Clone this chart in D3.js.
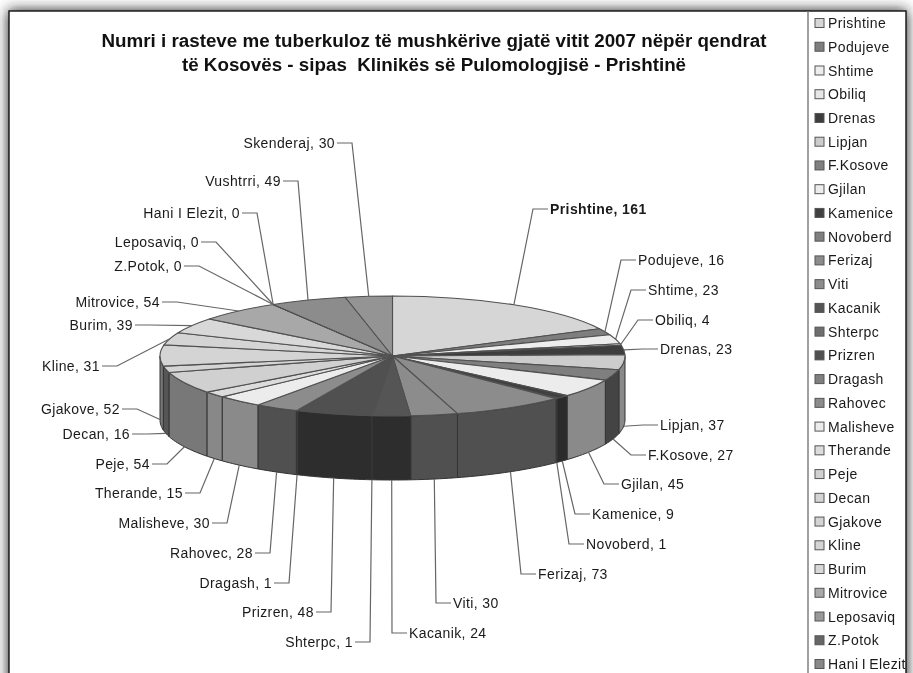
<!DOCTYPE html>
<html>
<head>
<meta charset="utf-8">
<script src="https://cdnjs.cloudflare.com/ajax/libs/d3/7.8.5/d3.min.js"></script>
<style>
  html, body { margin: 0; padding: 0; background: #fff; overflow: hidden; }
  svg { display: block; }
  text { font-family: "Liberation Sans", Arial, sans-serif; fill: #1a1a1a; }
  .label, .legend-label { font-size: 14px; letter-spacing: .4px; }
  .legend-label { word-spacing: -1px; }
  .title { font-size: 18.8px; font-weight: bold; text-anchor: middle; fill: #111; white-space: pre; }
  .leader { fill: none; stroke: #666; stroke-width: 1.2; }
  .slice { stroke: #505050; stroke-width: 1.1; stroke-linejoin: round; vector-effect: non-scaling-stroke; }
  .wall { stroke: #333; stroke-width: 1; stroke-linejoin: round; }
</style>
</head>
<body>
<svg id="chart" width="913" height="673"></svg>
<script>
const titleLines = [
  'Numri i rasteve me tuberkuloz të mushkërive gjatë vitit 2007 nëpër qendrat',
  'të Kosovës - sipas  Klinikës së Pulomologjisë - Prishtinë'
];

const categories = ['Prishtine', 'Podujeve', 'Shtime', 'Obiliq', 'Drenas', 'Lipjan', 'F.Kosove', 'Gjilan',
  'Kamenice', 'Novoberd', 'Ferizaj', 'Viti', 'Kacanik', 'Shterpc', 'Prizren', 'Dragash', 'Rahovec',
  'Malisheve', 'Therande', 'Peje', 'Decan', 'Gjakove', 'Kline', 'Burim', 'Mitrovice', 'Leposaviq',
  'Z.Potok', 'Hani I Elezit', 'Vushtrri', 'Skenderaj'];

const cases = [161, 16, 23, 4, 23, 37, 27, 45, 9, 1, 73, 30, 24, 1, 48, 1, 28, 30, 15, 54, 16, 52, 31, 39, 54, 0, 0, 0, 49, 30];

// the legend box is cut off by the picture, the last two never show
const legendCategories = categories.slice(0, 28);

const topColors = ['#d6d6d6', '#7e7e7e', '#ededed', '#e6e6e6', '#3d3d3d', '#cccccc', '#7f7f7f', '#ececec',
  '#404040', '#808080', '#8c8c8c', '#8c8c8c', '#555555', '#6e6e6e', '#505050', '#808080', '#8c8c8c',
  '#ececec', '#dcdcdc', '#d0d0d0', '#d4d4d4', '#d4d4d4', '#d4d4d4', '#d8d8d8', '#a8a8a8', '#999999',
  '#666666', '#888888', '#8c8c8c', '#949494'];

const wallColors = ['#888888', '#555555', '#8a8a8a', '#8a8a8a', '#2b2b2b', '#8a8a8a', '#444444', '#8a8a8a',
  '#2b2b2b', '#2b2b2b', '#505050', '#505050', '#2d2d2d', '#2d2d2d', '#2d2d2d', '#505050', '#505050',
  '#8a8a8a', '#888888', '#787878', '#555555', '#777777', '#888888', '#888888', '#666666', '#666666',
  '#444444', '#555555', '#555555', '#666666'];

// hand placed label spots, same order as categories: [side, text edge x, text middle y]
const labelSpots = [['r', 550, 209], ['r', 638, 260], ['r', 648, 290], ['r', 655, 320], ['r', 660, 349],
  ['r', 660, 425], ['r', 648, 455], ['r', 621, 484], ['r', 592, 514], ['r', 586, 544], ['r', 538, 574],
  ['r', 453, 603], ['r', 409, 633], ['l', 353, 642], ['l', 314, 612], ['l', 272, 583], ['l', 253, 553],
  ['l', 210, 523], ['l', 183, 493], ['l', 150, 464], ['l', 130, 434], ['l', 120, 409], ['l', 100, 366],
  ['l', 133, 325], ['l', 160, 302], ['l', 199, 242], ['l', 182, 266], ['l', 240, 213], ['l', 281, 181],
  ['l', 335, 143]];

const width = 913, height = 673;
const frame = {left: 9, top: 11, right: 906, legendLeft: 808};
const pie3d = {cx: 392.5, cy: 356, rx: 232.5, ry: 60, depth: 64};

const svg = d3.select('#chart');
const defs = svg.append('defs');
defs.append('filter').attr('id', 'shadow')
    .attr('x', '-5%').attr('y', '-5%').attr('width', '110%').attr('height', '110%')
  .append('feGaussianBlur').attr('stdDeviation', 6.5);

// soft shadow round the pasted chart
svg.append('rect')
    .attr('x', frame.left - 1).attr('y', frame.top - 1)
    .attr('width', frame.right - frame.left + 2).attr('height', height + 40)
    .attr('fill', '#222')
    .attr('filter', 'url(#shadow)');

const g = svg.append('g').style('filter', 'blur(.6px)');

g.append('rect')
    .attr('x', frame.left).attr('y', frame.top)
    .attr('width', frame.right - frame.left).attr('height', height + 40)
    .attr('fill', '#fff').attr('stroke', '#111').attr('stroke-width', 1.4);

g.append('line')
    .attr('x1', frame.legendLeft).attr('x2', frame.legendLeft)
    .attr('y1', frame.top).attr('y2', height)
    .attr('stroke', '#777').attr('stroke-width', 1.4);

// Title
g.selectAll('.title')
    .data(titleLines)
  .join('text')
    .attr('class', 'title')
    .attr('x', 434)
    .attr('y', (d, i) => 47 + i * 24)
    .text(d => d);

// Pie angles
const pieData = d3.pie().sort(null).value(d => d.value)(
  categories.map((name, i) => ({name, value: cases[i], index: i}))
);

const rimPoint = (angle, drop = 0) => [
  pie3d.cx + pie3d.rx * Math.sin(angle),
  pie3d.cy - pie3d.ry * Math.cos(angle) + drop
];

// Walls: only the front half of the disc can be seen
const wallPath = d => {
  const a0 = Math.max(d.startAngle, Math.PI / 2);
  const a1 = Math.min(d.endAngle, Math.PI * 1.5);
  if (a1 <= a0) return null;
  const steps = d3.range(a0, a1, .02).concat([a1]);
  const outline = steps.map(a => rimPoint(a))
      .concat(steps.slice().reverse().map(a => rimPoint(a, pie3d.depth)));
  return d3.line()(outline) + 'Z';
};

g.selectAll('.wall')
    .data(pieData.filter(d => wallPath(d)))
  .join('path')
    .attr('class', 'wall')
    .attr('d', wallPath)
    .attr('fill', d => wallColors[d.data.index]);

// Top face
const arc = d3.arc().innerRadius(0).outerRadius(pie3d.rx);

g.append('g')
    .attr('transform', `translate(${pie3d.cx},${pie3d.cy}) scale(1,${pie3d.ry / pie3d.rx})`)
  .selectAll('.slice')
    .data(pieData)
  .join('path')
    .attr('class', 'slice')
    .attr('d', arc)
    .attr('fill', d => topColors[d.data.index]);

// Leader lines and labels
const leaderStart = d => {
  const mid = (d.startAngle + d.endAngle) / 2;
  const onWall = mid > Math.PI / 2 && mid < Math.PI * 1.51;
  return rimPoint(mid, onWall ? pie3d.depth : 0);
};

const leaderLine = d3.line();

g.selectAll('.leader')
    .data(pieData)
  .join('path')
    .attr('class', 'leader')
    .attr('d', d => {
      const [side, x, y] = labelSpots[d.data.index];
      const dir = side === 'r' ? -1 : 1;
      return leaderLine([leaderStart(d), [x + dir * 17, y], [x + dir * 2, y]]);
    });

g.selectAll('.label')
    .data(pieData)
  .join('text')
    .attr('class', 'label')
    .attr('x', d => labelSpots[d.data.index][1])
    .attr('y', d => labelSpots[d.data.index][2])
    .attr('dy', '.36em')
    .attr('text-anchor', d => labelSpots[d.data.index][0] === 'r' ? 'start' : 'end')
    .style('font-weight', d => d.data.index === 0 ? 'bold' : null)
    .text(d => `${d.data.name}, ${d.data.value}`);

// Legend
const legendY = d3.scalePoint().domain(legendCategories).range([23, 664]);

const legend = g.selectAll('.legend-item')
    .data(legendCategories)
  .join('g')
    .attr('class', 'legend-item')
    .attr('transform', d => `translate(815,${legendY(d)})`);

legend.append('rect')
    .attr('y', -4.5)
    .attr('width', 9)
    .attr('height', 9)
    .attr('fill', (d, i) => topColors[i])
    .attr('stroke', '#555')
    .attr('stroke-width', 1);

legend.append('text')
    .attr('class', 'legend-label')
    .attr('x', 13)
    .attr('dy', '.36em')
    .text(d => d);
</script>
</body>
</html>
